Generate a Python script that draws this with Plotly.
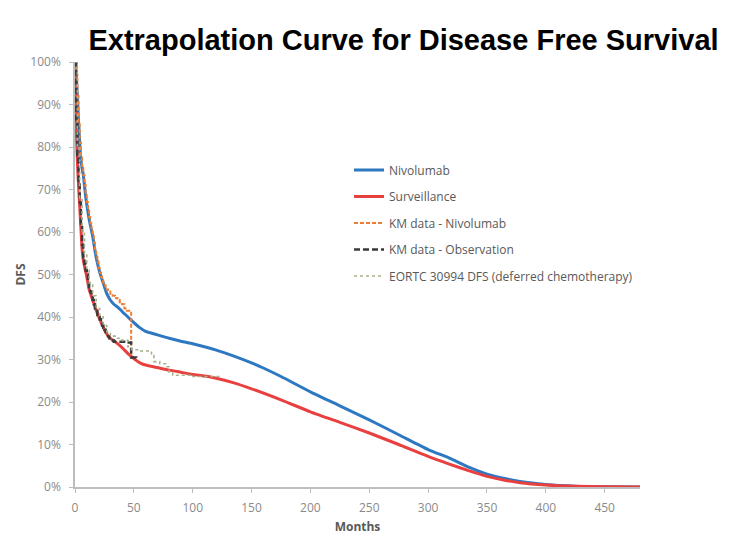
import plotly.graph_objects as go

# Fitted extrapolation curves (months, DFS %)
nivo_months = [0, 1, 2, 3, 4, 5, 6, 7, 8, 9, 10, 12, 15, 18, 21, 24, 27, 30, 33, 36, 40, 45, 50, 55, 60,
               70, 80, 90, 100, 110, 120, 135, 150, 160, 175, 200, 225, 250, 275, 300, 318, 335, 350,
               365, 378, 400, 425, 450, 480]
nivo_dfs = [100, 97, 92, 86, 81, 77, 75, 73.5, 71, 68.5, 66.5, 63, 59, 54, 50.5, 48, 45.5, 44, 43, 42.4,
            41.3, 40, 38.7, 37.5, 36.6, 35.8, 35, 34.3, 33.7, 33, 32.2, 30.8, 29.2, 28.0, 26.0, 22.4,
            19.1, 15.8, 12.3, 8.8, 6.8, 4.6, 3.0, 2.0, 1.3, 0.6, 0.2, 0.05, 0]

surv_months = [0, 1, 2, 3, 4, 5, 6, 7, 8, 10, 12, 15, 18, 21, 24, 27, 30, 34, 40, 45, 48, 52, 56, 60,
               70, 80, 90, 100, 110, 120, 135, 150, 175, 200, 225, 250, 275, 300, 318, 335, 350, 365,
               378, 400, 425, 450, 480]
surv_dfs = [100, 85, 77, 71, 66, 61, 56, 53.5, 52, 49.5, 46.5, 44, 41.6, 39.5, 37.6, 36, 35, 34.2, 32.8,
            31.4, 30.7, 29.8, 29.1, 28.7, 28.1, 27.5, 27, 26.5, 26.1, 25.6, 24.5, 23.1, 20.5, 17.7,
            15.2, 12.7, 10, 7.2, 5.4, 3.8, 2.5, 1.6, 1.0, 0.45, 0.15, 0.05, 0]

# Kaplan-Meier data (step functions)
km_nivo_months = [0, 1, 2, 3, 4, 5, 6, 7, 8, 9, 10, 11, 12, 13, 14, 15, 16, 17, 18, 19, 20, 21, 22, 23,
                  24, 26, 28, 30, 32, 34, 36, 38, 40, 42, 44, 46, 47.7, 47.7]
km_nivo_dfs = [100, 97, 92, 86, 81, 77.5, 75, 73.5, 71, 69, 67, 65, 63.5, 62, 60.5, 59, 57.5, 56, 54.5,
               53, 51.5, 50.5, 49.5, 48.5, 47.5, 46.5, 46, 45.5, 45, 44.5, 44, 43.5, 43, 42, 41.5, 41,
               41, 31]

km_obs_months = [0, 1, 2, 3, 4, 5, 6, 7, 8, 9, 10, 11, 12, 13, 14, 15, 16, 17, 18, 19, 20, 21, 22, 23,
                 24, 25, 26, 27, 28, 29, 31, 33, 38, 43, 47.7, 47.7, 52]
km_obs_dfs = [100, 86, 78, 72, 67, 62, 57, 54, 52.5, 51, 50, 48.5, 47, 46, 45, 44, 43, 42, 41.5, 40.5, 40,
              39.5, 38.5, 38, 37.5, 37, 36.5, 36, 35.5, 35, 34.5, 34.2, 34.2, 34, 34, 30.5, 30]

eortc_months = [0, 2, 4, 6, 8, 10, 12, 15, 18, 21, 24, 27, 30, 35, 40, 45, 48, 55, 63, 65, 67, 72, 77,
                80, 83, 100, 125]
eortc_dfs = [100, 80, 68, 60, 55, 51, 48, 45, 42, 40, 38, 36.5, 35.5, 35, 34.5, 33, 32.3, 32, 32, 31,
             29.5, 29, 28.3, 27, 26.3, 26, 26]

x_ticks = [0, 50, 100, 150, 200, 250, 300, 350, 400, 450]
y_ticks = [0, 10, 20, 30, 40, 50, 60, 70, 80, 90, 100]
y_tick_labels = [f"{v}%" for v in y_ticks]

fig = go.Figure()
fig.add_trace(go.Scatter(x=nivo_months, y=nivo_dfs, mode="lines", name="Nivolumab",
                         line=dict(color="#2e78c2", width=3, shape="spline", smoothing=0.6),
                         legendgroup="a"))
fig.add_trace(go.Scatter(x=surv_months, y=surv_dfs, mode="lines", name="Surveillance",
                         line=dict(color="#e8403f", width=3, shape="spline", smoothing=0.6),
                         legendgroup="b"))
fig.add_trace(go.Scatter(x=km_nivo_months, y=km_nivo_dfs, mode="lines", name="KM data - Nivolumab",
                         line=dict(color="#ed7d31", width=2, dash="4px,2px", shape="hv"), legendgroup="c"))
fig.add_trace(go.Scatter(x=km_obs_months, y=km_obs_dfs, mode="lines", name="KM data - Observation",
                         line=dict(color="#3a3a3a", width=2.5, dash="6px,3px", shape="hv"), legendgroup="d"))
fig.add_trace(go.Scatter(x=eortc_months, y=eortc_dfs, mode="lines",
                         name="EORTC 30994 DFS (deferred chemotherapy)",
                         line=dict(color="#a6b08a", width=1.6, dash="dot", shape="hv"), legendgroup="e"))

axis_font = dict(family="Open Sans, Lato, sans-serif", size=12, color="#8a8a8a")
fig.update_layout(
    width=756, height=554,
    margin=dict(l=75, r=116, t=62, b=67),
    plot_bgcolor="white", paper_bgcolor="white",
    title=dict(text="<b>Extrapolation Curve for Disease Free Survival</b>",
               font=dict(family="Liberation Sans, Arial, sans-serif", size=29, color="black"),
               x=403.5 / 756, xanchor="center", xref="container",
               y=1 - 40 / 554, yanchor="middle", yref="container"),
    xaxis=dict(range=[0, 480], tickvals=x_ticks, showgrid=False, zeroline=False,
               showline=True, linecolor="#bdbdbd", linewidth=1.5,
               ticks="outside", ticklen=4, tickcolor="#bdbdbd",
               tickfont=axis_font, ticklabelstandoff=5,
               title=dict(text="<b>Months</b>", standoff=7,
                          font=dict(family="Open Sans, Lato, sans-serif", size=12, color="#595959"))),
    yaxis=dict(range=[0, 100], tickvals=y_ticks, ticktext=y_tick_labels, showgrid=False, zeroline=False,
               showline=True, linecolor="#bdbdbd", linewidth=1.5,
               ticks="outside", ticklen=4, tickcolor="#bdbdbd",
               tickfont=axis_font, ticklabelstandoff=6,
               title=dict(text="<b>DFS</b>", standoff=2,
                          font=dict(family="Open Sans, Lato, sans-serif", size=12, color="#595959"))),
    legend=dict(x=0.485, y=0.78, xanchor="left", yanchor="top",
                font=dict(family="Open Sans, Lato, sans-serif", size=12, color="#595959"),
                bgcolor="rgba(0,0,0,0)", tracegroupgap=7.5, itemwidth=30),
    showlegend=True,
)

fig.write_html("out.html")
